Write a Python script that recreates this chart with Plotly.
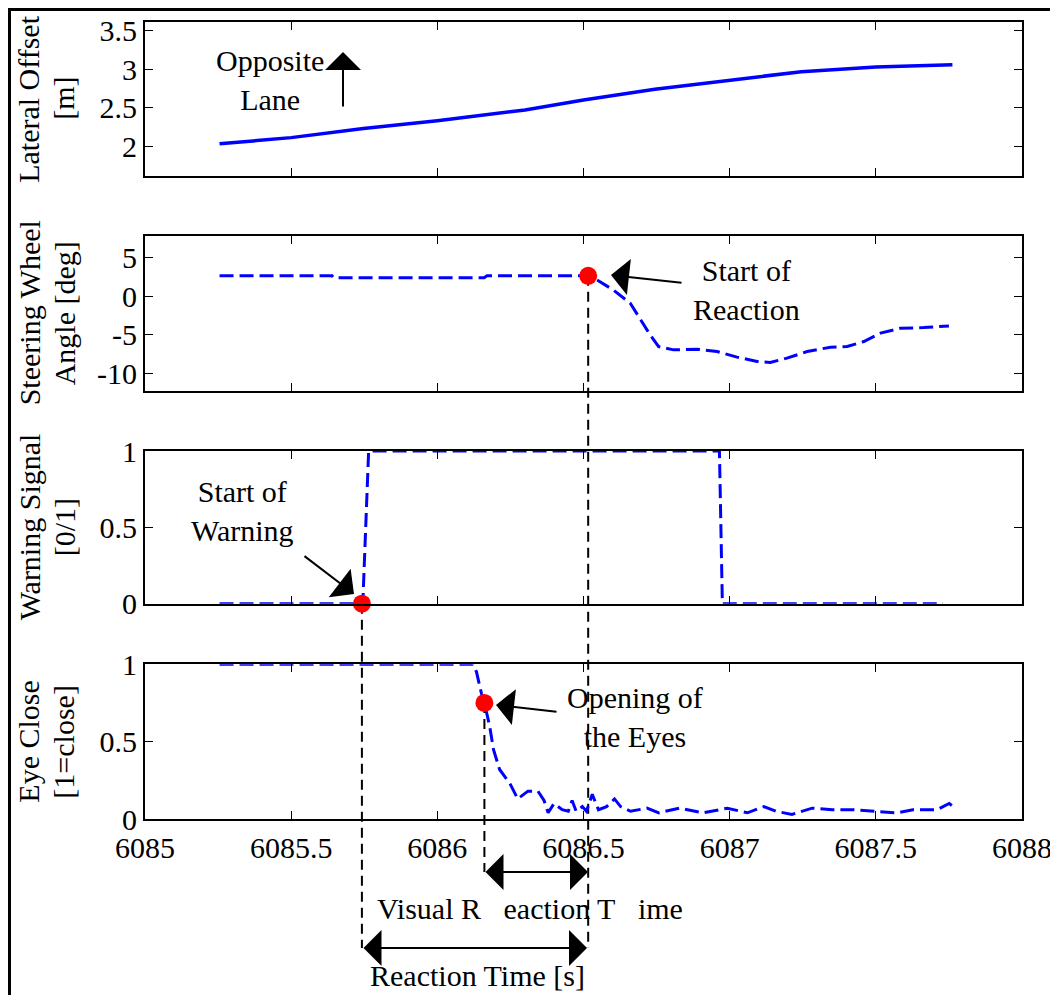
import plotly.graph_objects as go
from plotly.subplots import make_subplots

# ---- data ----
# lateral offset [m]
t_lat = [6085.255, 6085.5, 6085.747, 6086.0, 6086.3, 6086.5, 6086.744, 6087.0, 6087.245, 6087.5, 6087.762]
lat_offset = [2.03, 2.11, 2.23, 2.33, 2.47, 2.60, 2.74, 2.86, 2.97, 3.03, 3.06]

# steering wheel angle [deg]
t_steer = [6085.255, 6085.64, 6085.645, 6086.16, 6086.17, 6086.513, 6086.546, 6086.602, 6086.660,
           6086.700, 6086.728, 6086.757, 6086.808, 6086.888, 6086.957, 6087.025, 6087.094, 6087.139,
           6087.196, 6087.265, 6087.345, 6087.402, 6087.459, 6087.516, 6087.585, 6087.664, 6087.750]
steer = [2.65, 2.65, 2.4, 2.4, 2.65, 2.65, 2.11, 0.82, -0.91,
         -3.29, -5.01, -6.53, -6.96, -6.87, -7.18, -7.90, -8.47, -8.60,
         -8.03, -7.18, -6.61, -6.53, -5.88, -4.79, -4.15, -4.07, -3.85]

# warning signal [0/1]
t_warn = [6085.255, 6085.745, 6085.765, 6086.965, 6086.975, 6087.730]
warn = [0, 0, 1, 1, 0, 0]

# eye close [1=close]
t_eye = [6085.255, 6086.123, 6086.134, 6086.151, 6086.161, 6086.179, 6086.192, 6086.213, 6086.248,
         6086.275, 6086.310, 6086.344, 6086.365, 6086.379, 6086.399, 6086.427, 6086.448, 6086.461,
         6086.475, 6086.496, 6086.510, 6086.530, 6086.551, 6086.579, 6086.606, 6086.627, 6086.661,
         6086.717, 6086.758, 6086.827, 6086.910, 6086.992, 6087.061, 6087.117, 6087.158, 6087.213,
         6087.282, 6087.351, 6087.420, 6087.503, 6087.572, 6087.627, 6087.710, 6087.751, 6087.765]
eye = [1, 1, 0.95, 0.81, 0.75, 0.60, 0.45, 0.32, 0.23,
       0.13, 0.18, 0.18, 0.12, 0.04, 0.10, 0.06, 0.05, 0.12,
       0.05, 0.08, 0.05, 0.16, 0.06, 0.08, 0.13, 0.08, 0.05,
       0.07, 0.04, 0.07, 0.04, 0.07, 0.04, 0.08, 0.05, 0.03,
       0.07, 0.06, 0.06, 0.05, 0.04, 0.06, 0.06, 0.10, 0.08]

# events (red dots)
t_warning_start, v_warning_start = 6085.742, 0
t_reaction_start, v_reaction_start = 6086.516, 2.65
t_eyes_open, v_eyes_open = 6086.161, 0.75

x_ticks = [6085, 6085.5, 6086, 6086.5, 6087, 6087.5, 6088]
x_ticktext = ["6085", "6085.5", "6086", "6086.5", "6087", "6087.5", "6088"]
y_ticks = [[2, 2.5, 3, 3.5], [-10, -5, 0, 5], [0, 0.5, 1], [0, 0.5, 1]]
y_ticktext = [["2", "2.5", "3", "3.5"], ["-10", "-5", "0", "5"], ["0", "0.5", "1"], ["0", "0.5", "1"]]
y_ranges = [[1.61, 3.617], [-12.26, 7.82], [0, 1], [0, 1]]
y_titles = [["Lateral Offset", "[m]"], ["Steering Wheel", "Angle [deg]"],
            ["Warning Signal", "[0/1]"], ["Eye Close", "[1=close]"]]

# ---- geometry: page pixels; the figure sits 8px in from the page corner
# and is sized so the page exactly fills the window ----
OFF = 8
W, H = 1050, 987
ML, MT = 145 - OFF, 22 - OFF
PW = 1022 - 145
PH = 819 - 22
MR, MB = W - ML - PW, H - MT - PH


def px(x):
    return (x - OFF - ML) / PW


def py(y):
    return (MT + PH - (y - OFF)) / PH


panel_px = [(21.7, 176), (236, 390.7), (451, 603.7), (664.3, 819)]
domains = [[max(0.0, py(b)), min(1.0, py(t))] for t, b in panel_px]


def to_paper(row, v):
    d0, d1 = domains[row - 1]
    r0, r1 = y_ranges[row - 1]
    return d0 + (v - r0) / (r1 - r0) * (d1 - d0)


FONT = "Liberation Serif"
BLUE = "#0000FF"
blue_dash = "14px,6px"

fig = make_subplots(rows=4, cols=1)

fig.add_trace(go.Scatter(x=t_lat, y=lat_offset, mode="lines",
                         line=dict(color=BLUE, width=3.5)), row=1, col=1)
fig.add_trace(go.Scatter(x=t_steer, y=steer, mode="lines",
                         line=dict(color=BLUE, width=3, dash=blue_dash)), row=2, col=1)
fig.add_trace(go.Scatter(x=t_warn, y=warn, mode="lines", cliponaxis=False,
                         line=dict(color=BLUE, width=3, dash=blue_dash)), row=3, col=1)
fig.add_trace(go.Scatter(x=t_eye, y=eye, mode="lines", cliponaxis=False,
                         line=dict(color=BLUE, width=3, dash=blue_dash)), row=4, col=1)

# red event dots
for t, v, r in [(t_reaction_start, v_reaction_start, 2),
                (t_warning_start, v_warning_start, 3),
                (t_eyes_open, v_eyes_open, 4)]:
    fig.add_trace(go.Scatter(x=[t], y=[v], mode="markers", cliponaxis=False,
                             marker=dict(color="#FF0000", size=18)), row=r, col=1)

for i in range(4):
    r = i + 1
    fig.update_yaxes(domain=domains[i], range=y_ranges[i], tickvals=y_ticks[i],
                     ticktext=y_ticktext[i], row=r, col=1)
    fig.update_xaxes(range=[6085, 6088], tickvals=x_ticks, ticktext=x_ticktext,
                     showticklabels=(r == 4), row=r, col=1)

axis_style = dict(showline=True, linecolor="black", linewidth=2, mirror="ticks",
                  ticks="inside", ticklen=8, tickwidth=1, tickcolor="black",
                  showgrid=False, zeroline=False, automargin=False,
                  ticklabeloverflow="allow",
                  tickfont=dict(family=FONT, size=30, color="black"))
fig.update_xaxes(**axis_style)
fig.update_yaxes(**axis_style)
fig.update_xaxes(ticklabelstandoff=1, row=4, col=1)

# vertical dashed guide lines from the events downwards
black_dash = "10px,6px"
guides = [(t_warning_start, to_paper(3, v_warning_start), py(948)),
          (t_reaction_start, to_paper(2, v_reaction_start), py(948)),
          (t_eyes_open, to_paper(4, v_eyes_open), py(872))]
for t, y0, y1 in guides:
    fig.add_shape(type="line", xref="x4", yref="paper", x0=t, x1=t, y0=y0, y1=y1,
                  line=dict(color="black", width=2, dash=black_dash), layer="below")

# outer frame
fig.add_shape(type="line", xref="paper", yref="paper", x0=px(9.5), x1=px(9.5), y0=py(8), y1=py(1010),
              line=dict(color="black", width=3))
fig.add_shape(type="line", xref="paper", yref="paper", x0=px(8), x1=px(1057), y0=py(9.5), y1=py(9.5),
              line=dict(color="black", width=3))
fig.add_shape(type="line", xref="paper", yref="paper", x0=px(1055.5), x1=px(1055.5), y0=py(8), y1=py(1010),
              line=dict(color="#555555", width=1))

txt_font = dict(family=FONT, size=30, color="black")

# y axis titles (two rotated lines each)
for i, (l1, l2) in enumerate(y_titles):
    top, bot = panel_px[i]
    yc = py((top + bot) / 2)
    fig.add_annotation(x=px(29), y=yc, xref="paper", yref="paper", text=l1, textangle=-90,
                       showarrow=False, font=txt_font, xanchor="center", yanchor="middle")
    fig.add_annotation(x=px(64), y=yc, xref="paper", yref="paper", text=l2, textangle=-90,
                       showarrow=False, font=txt_font, xanchor="center", yanchor="middle")

# labels
labels = [("Opposite<br>Lane", 270, 80),
          ("Start of<br>Reaction", 746, 290),
          ("Start of<br>Warning", 242, 511),
          ("Opening of<br>the Eyes", 635, 717),
          ("Visual R\u00a0\u00a0\u00a0eaction T\u00a0\u00a0\u00a0ime", 530, 908),
          ("Reaction Time [s]", 477, 975)]
for text, x, y in labels:
    fig.add_annotation(x=px(x), y=py(y), xref="paper", yref="paper", text=text,
                       showarrow=False, font=txt_font, xanchor="center", yanchor="middle")

# arrows: (tail, tip, double)
arrows = [((343, 108), (343, 52), False),
          ((683, 283), (611, 275), False),
          ((303, 555), (354, 594), False),
          ((558, 712), (496, 705), False),
          ((484, 872), (588, 872), True),
          ((362, 948), (587, 948), True)]
for (tx, ty), (hx, hy), both in arrows:
    fig.add_annotation(x=px(hx), y=py(hy), xref="paper", yref="paper",
                       ax=tx - hx, ay=ty - hy, axref="pixel", ayref="pixel", text="",
                       showarrow=True, arrowhead=1, arrowsize=3, arrowwidth=2,
                       arrowcolor="black", arrowside="end+start" if both else "end",
                       startarrowhead=1, startarrowsize=3)

fig.update_layout(width=W, height=H, margin=dict(l=ML, r=MR, t=MT, b=MB, autoexpand=False),
                  showlegend=False, paper_bgcolor="white", plot_bgcolor="rgba(0,0,0,0)",
                  font=dict(family=FONT, size=30, color="black"))

fig.write_html("out.html")
